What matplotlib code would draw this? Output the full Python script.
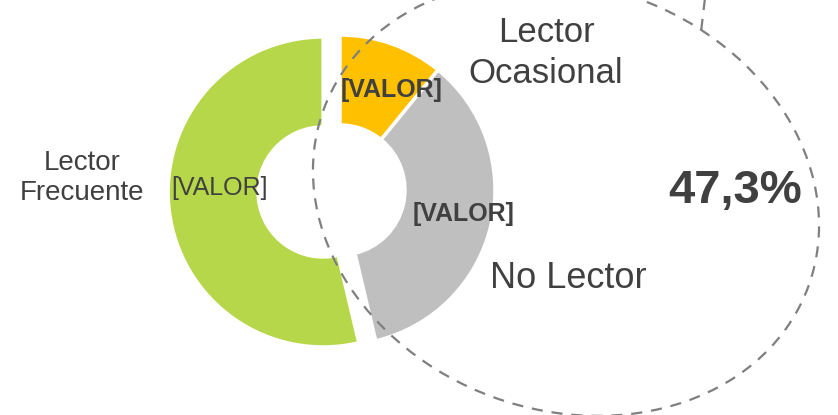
import matplotlib
matplotlib.use("Agg")
import matplotlib.pyplot as plt
from matplotlib.patches import Ellipse

plt.rcParams['font.family'] = ['Liberation Sans', 'DejaVu Sans']

# data (pie goes clockwise from 12 o'clock)
categories = ["Lector Ocasional", "No Lector", "Lector Frecuente"]
values = [10.9, 35.4, 53.7]
colors = ["#FFC000", "#BFBFBF", "#B7D74B"]
explode = [0, 0, 17]
value_label = "[VALOR]"
total_label = "47,3%"

W, H = 838, 415
fig = plt.figure(figsize=(W / 100, H / 100), dpi=100)
ax = fig.add_axes([0, 0, 1, 1])

txt = "#404040"
dash_col = "#7F7F7F"

# dashed ellipse behind the donut
ell = Ellipse((566, H - 198), 516, 424, angle=-20, fill=False,
              edgecolor=dash_col, linestyle=(0, (5, 4)), linewidth=1.6, zorder=3)
ax.add_patch(ell)
ax.plot([705, 701], [H + 2, H - 32], color=dash_col, linestyle=(0, (5, 4)),
        linewidth=1.6, zorder=3)

wedges, _ = ax.pie(values, colors=colors, explode=explode, center=(340, H - 190),
                   radius=155, startangle=90, counterclock=False,
                   wedgeprops=dict(width=90, edgecolor='white', linewidth=2.5),
                   frame=True)
ax.set_xlim(0, W)
ax.set_ylim(0, H)
ax.set_aspect('equal')
ax.axis('off')
for w in wedges:
    w.set_zorder(2)

# value labels
ax.text(392, H - 90, value_label, fontsize=18, fontweight='bold', color=txt,
        ha='center', va='center', zorder=5)
ax.text(464, H - 214, value_label, fontsize=18, fontweight='bold', color=txt,
        ha='center', va='center', zorder=5)
ax.text(219, H - 188, value_label, fontsize=18, color=txt,
        ha='center', va='center', zorder=5)

# category labels
ax.text(82, H - 178, "Lector\nFrecuente", fontsize=20, color=txt,
        ha='center', va='center', linespacing=1.2)
ax.text(546, H - 53, "Lector\nOcasional", fontsize=25, color=txt,
        ha='center', va='center', linespacing=1.28)
ax.text(568, H - 278, "No Lector", fontsize=26, color=txt,
        ha='center', va='center')
ax.text(735, H - 191, total_label, fontsize=34, fontweight='bold', color=txt,
        ha='center', va='center')

fig.savefig("out.png", dpi=100)
